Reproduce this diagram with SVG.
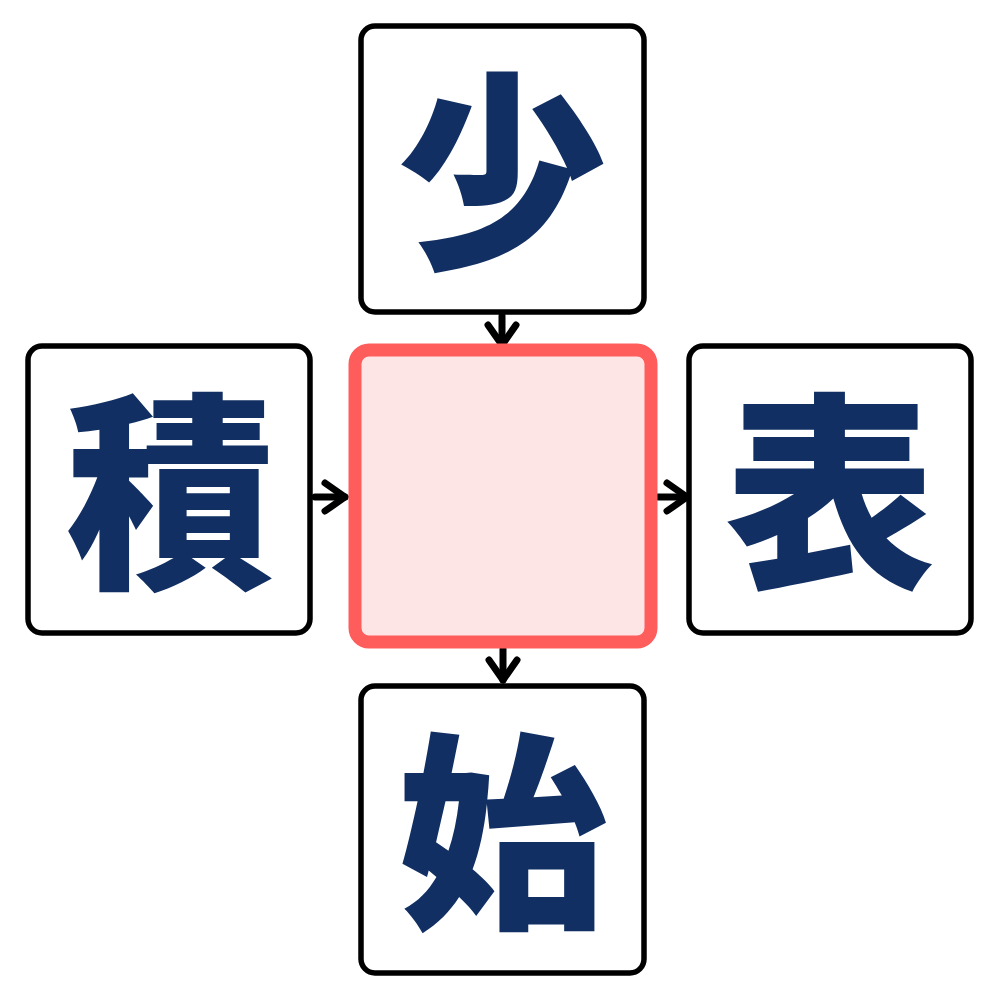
<svg xmlns="http://www.w3.org/2000/svg" width="1000" height="1000" viewBox="0 0 1000 1000">
<style>
.box{fill:#ffffff;stroke:#000000;stroke-width:5.5}
.center{fill:#fde5e5;stroke:#ff5c5c;stroke-width:13}
.ch{font-family:"Noto Sans CJK JP","Noto Sans CJK SC",sans-serif;font-weight:900;font-size:210px;fill:#112f63;text-anchor:middle;dominant-baseline:central}
.conn{stroke:#000000;stroke-width:7;fill:none;stroke-linecap:round;stroke-linejoin:round}
</style>
<defs>
<marker id="arr" markerUnits="userSpaceOnUse" markerWidth="40" markerHeight="40" refX="0" refY="0" orient="auto" overflow="visible">
<path d="M-20,-14 L0,0 L-20,14" fill="none" stroke="#000" stroke-width="7" stroke-linecap="round" stroke-linejoin="round"/>
</marker>
</defs>
<rect width="1000" height="1000" fill="#ffffff"/>
<g id="connectors">
<line class="conn" x1="502" y1="316" x2="502" y2="345" marker-end="url(#arr)"/>
<line class="conn" x1="315" y1="497" x2="345" y2="497" marker-end="url(#arr)"/>
<line class="conn" x1="658" y1="497" x2="687" y2="497" marker-end="url(#arr)"/>
<line class="conn" x1="503" y1="649" x2="503" y2="680" marker-end="url(#arr)"/>
</g>
<g id="node-center">
<rect class="center" x="355" y="350" width="296" height="292" rx="14"/>
</g>
<g id="node-top">
<rect class="box" x="361" y="26" width="283" height="286" rx="14"/>
<text class="ch" x="502" y="160">少</text>
</g>
<g id="node-left">
<rect class="box" x="28" y="346" width="282" height="287" rx="14"/>
<text class="ch" x="170" y="480">積</text>
</g>
<g id="node-right">
<rect class="box" x="689" y="346" width="282" height="287" rx="14"/>
<text class="ch" x="830" y="480">表</text>
</g>
<g id="node-bottom">
<rect class="box" x="361" y="686" width="283" height="287" rx="14"/>
<text class="ch" x="502" y="820">始</text>
</g>
</svg>
